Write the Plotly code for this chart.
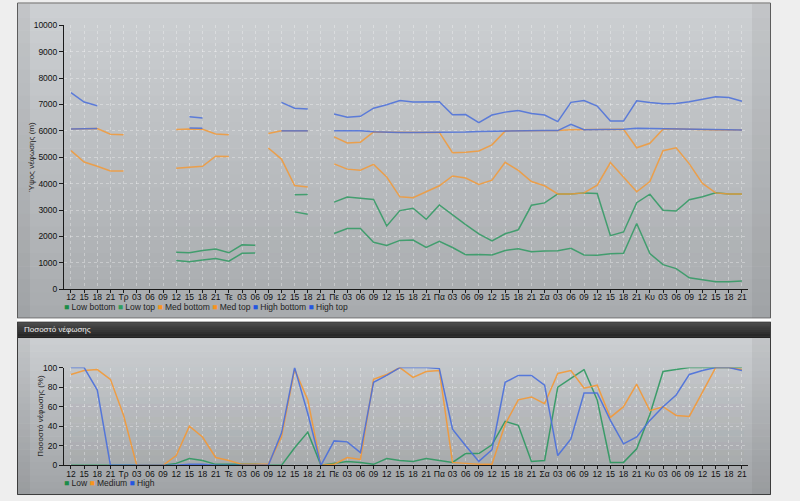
import plotly.graph_objects as go

W, H = 800, 501
N = None

tick_labels = ["12", "15", "18", "21",
               "Τρ", "03", "06", "09", "12", "15", "18", "21",
               "Τε", "03", "06", "09", "12", "15", "18", "21",
               "Πε", "03", "06", "09", "12", "15", "18", "21",
               "Πα", "03", "06", "09", "12", "15", "18", "21",
               "Σα", "03", "06", "09", "12", "15", "18", "21",
               "Κυ", "03", "06", "09", "12", "15", "18", "21"]

low_bottom = [N, N, N, N, N, N, N, N, 1090, 1040, 1110, 1160, 1060, 1360, 1370, N,
              N, 2930, 2840, N, 2110, 2300, 2300, 1780, 1660, 1850, 1860, 1580, 1810, 1580,
              1310, 1320, 1300, 1470, 1530, 1420, 1450, 1460, 1550, 1300, 1290, 1340, 1360,
              2490, 1350, 930, 780, 430, 360, 280, 280, 310]
low_top = [N, N, N, N, N, N, N, N, 1400, 1380, 1470, 1520, 1380, 1680, 1670, N,
           N, 3580, 3590, N, 3300, 3490, 3450, 3400, 2400, 2980, 3070, 2650, 3190, 2810,
           2450, 2100, 1830, 2100, 2250, 3180, 3270, 3610, 3610, 3650, 3630, 2030, 2170,
           3280, 3600, 2990, 2960, 3390, 3500, 3650, 3610, 3610]
med_bottom = [5250, 4820, 4660, 4480, 4480, N, N, N, 4580, 4620, 4660, 5040, 5030, N, N, 5350,
              4930, 3930, 3870, N, 4750, 4550, 4510, 4730, 4250, 3500, 3470, 3700, 3920, 4290,
              4210, 3970, 4130, 4810, 4500, 4080, 3920, 3610, 3610, 3650, 3940, 4800, 4260,
              3690, 4080, 5250, 5360, 4750, 4010, 3650, 3610, 3610]
med_top = [6070, 6070, 6090, 5870, 5850, N, N, N, 6050, 6070, 6060, 5880, 5850, N, N, 5900,
           6000, 6000, 6000, N, 5770, 5540, 5570, 5960, 5950, 5940, 5940, 5940, 5940, 5170,
           5190, 5240, 5470, 5990, 6000, 6000, 6010, 6010, 6040, 6040, 6040, 6040, 6060,
           5360, 5530, 6060, 6080, 6060, 6040, 6030, 6030, 6030]
high_bottom = [6070, 6070, 6090, N, N, N, N, N, N, 6110, 6100, N, N, N, N, N,
               6000, 6000, 6000, N, 6000, 6000, 6000, 5970, 5950, 5940, 5940, 5940, 5940, 5950,
               5960, 5980, 5990, 5990, 6000, 6000, 6010, 6010, 6250, 6040, 6040, 6040, 6060,
               6100, 6090, 6080, 6080, 6060, 6040, 6030, 6030, 6030]
high_top = [7450, 7090, 6950, N, N, N, N, N, N, 6535, 6485, N, N, N, N, N,
            7080, 6860, 6830, N, 6640, 6520, 6550, 6860, 6990, 7150, 7090, 7090, 7100, 6610,
            6620, 6310, 6600, 6710, 6770, 6660, 6600, 6350, 7080, 7150, 6940, 6370, 6370,
            7140, 7070, 7030, 7040, 7100, 7200, 7290, 7260, 7120]

cover_low = [0, 0, 0, 0, 0, 0, 0, 0, 2, 7, 5, 1, 1, 1, 1, 0, 0, 18, 34, 0, 2, 4, 3, 1, 7, 5,
             4, 7, 5, 3, 12, 12, 21, 45, 41, 4, 5, 80, 89, 98, 67, 3, 3, 17, 52, 96, 98, 100,
             100, 100, 100, 100]
cover_medium = [93, 97, 98, 88, 51, 0, 0, 0, 10, 40, 29, 8, 5, 1, 1, 1, 29, 98, 67, 0, 1, 8, 6,
                88, 93, 100, 90, 96, 97, 3, 2, 1, 1, 42, 67, 70, 63, 94, 97, 79, 82, 49, 60,
                83, 56, 60, 51, 50, 75, 100, 100, 98]
cover_high = [100, 100, 77, 0, 0, 0, 0, 0, 0, 1, 1, 0, 0, 0, 0, 0, 33, 100, 53, 0, 25, 24, 13,
              85, 92, 100, 100, 100, 99, 37, 20, 4, 16, 85, 92, 92, 82, 10, 27, 74, 74, 46,
              22, 29, 46, 60, 72, 93, 97, 100, 100, 97]

x = list(range(len(tick_labels)))

GREEN = "#2f9a62"
ORANGE = "#f39a38"
BLUE = "#4a6fdc"
FONT = "Liberation Sans, Arial, sans-serif"
FS = 8


def py(p):
    return 1 - p / H


def px(p):
    return p / W


fig = go.Figure()

top_series = [("Low bottom", low_bottom, GREEN), ("Low top", low_top, GREEN),
              ("Med bottom", med_bottom, ORANGE), ("Med top", med_top, ORANGE),
              ("High bottom", high_bottom, BLUE), ("High top", high_top, BLUE)]
for name, vals, col in top_series:
    fig.add_trace(go.Scatter(x=x, y=vals, name=name, mode="lines",
                             line=dict(color=col, width=1.5), opacity=0.85,
                             xaxis="x", yaxis="y", showlegend=False))

bottom_series = [("Low", cover_low, GREEN), ("Medium", cover_medium, ORANGE),
                 ("High", cover_high, BLUE)]
for name, vals, col in bottom_series:
    fig.add_trace(go.Scatter(x=x, y=vals, name=name, mode="lines",
                             line=dict(color=col, width=1.5), opacity=0.9,
                             xaxis="x2", yaxis="y2", showlegend=False))

shapes = []


def gradient(x0, x1, y0, y1, c0, c1, steps=24):
    for k in range(steps):
        t = k / (steps - 1)
        c = tuple(int(round(c0[j] + (c1[j] - c0[j]) * t)) for j in range(3))
        a = y0 + (y1 - y0) * k / steps
        b = y0 + (y1 - y0) * (k + 1) / steps + 0.6
        shapes.append(dict(type="rect", xref="paper", yref="paper", layer="below",
                           x0=px(x0), x1=px(x1), y0=py(min(b, y1)), y1=py(a),
                           line=dict(width=0), fillcolor="rgb(%d,%d,%d)" % c))


# top panel
gradient(17, 771, -1, 320, (204, 207, 210), (168, 171, 174))
# header bar of bottom panel
gradient(17, 771, 323, 340, (78, 78, 78), (34, 34, 34), steps=8)
# bottom panel body
gradient(17, 771, 340, 500, (203, 206, 209), (160, 163, 166))
# side shading
for (a, b) in [(17, 30), (752, 771)]:
    shapes.append(dict(type="rect", xref="paper", yref="paper", layer="below",
                       x0=px(a), x1=px(b), y0=py(320), y1=py(-1),
                       line=dict(width=0), fillcolor="rgba(80,80,80,0.08)"))
    shapes.append(dict(type="rect", xref="paper", yref="paper", layer="below",
                       x0=px(a), x1=px(b), y0=py(500), y1=py(340),
                       line=dict(width=0), fillcolor="rgba(80,80,80,0.08)"))
# borders
shapes.append(dict(type="rect", xref="paper", yref="paper", layer="below",
                   x0=px(17.5), x1=px(770.5), y0=py(319.5), y1=py(-2),
                   line=dict(width=1, color="#5c5c5c"), fillcolor="rgba(0,0,0,0)"))
shapes.append(dict(type="rect", xref="paper", yref="paper", layer="below",
                   x0=px(17.5), x1=px(770.5), y0=py(499.5), y1=py(323.5),
                   line=dict(width=1, color="#3c3c3c"), fillcolor="rgba(0,0,0,0)"))
shapes.append(dict(type="rect", xref="paper", yref="paper", layer="below",
                   x0=px(17), x1=px(771), y0=py(323), y1=py(320),
                   line=dict(width=0), fillcolor="#ffffff"))


def legend_text(items):
    parts = []
    for name, col in items:
        parts.append("<span style='color:%s'>■</span> %s" % (col, name))
    return " ".join(parts)


annotations = [
    dict(text=legend_text([("Low bottom", "#1c8c48"), ("Low top", "#2e9e5e"),
                           ("Med bottom", "#f7941d"), ("Med top", "#f7941d"),
                           ("High bottom", "#2456e0"), ("High top", "#2456e0")]),
         xref="paper", yref="paper", x=px(62), y=py(308), xanchor="left", yanchor="middle",
         showarrow=False, font=dict(family=FONT, size=FS + 0.5, color="#222")),
    dict(text=legend_text([("Low", "#1c8c48"), ("Medium", "#f7941d"), ("High", "#2456e0")]),
         xref="paper", yref="paper", x=px(62), y=py(488), xanchor="left", yanchor="middle",
         showarrow=False, font=dict(family=FONT, size=FS + 0.5, color="#222")),
    dict(text="Ύψος νέφωσης (m)", textangle=-90, xref="paper", yref="paper",
         x=px(32), y=py(155), xanchor="center", yanchor="middle", showarrow=False,
         font=dict(family=FONT, size=FS, color="#222")),
    dict(text="Ποσοστό νέφωσης (%)", textangle=-90, xref="paper", yref="paper",
         x=px(41), y=py(419), xanchor="center", yanchor="middle", showarrow=False,
         font=dict(family=FONT, size=FS, color="#222")),
    dict(text="Ποσοστό νέφωσης", xref="paper", yref="paper",
         x=px(22), y=py(331.5), xanchor="left", yanchor="middle", showarrow=False,
         font=dict(family=FONT, size=FS, color="#f0f0f0")),
]

grid = "rgba(255,255,255,0.32)"
xcommon = dict(domain=[px(64), px(748)], range=[-0.53, 51.46], tickmode="array",
               tickvals=x, ticktext=tick_labels, tickangle=0, showgrid=True,
               gridcolor=grid, griddash="3px,3px", gridwidth=1, showline=True,
               linecolor="#1a1a1a", linewidth=1, ticks="outside", ticklen=3,
               ticklabelstandoff=-3,
               tickcolor="#1a1a1a", tickfont=dict(family=FONT, size=8.5, color="#111"),
               zeroline=False, fixedrange=True)
ycommon = dict(showgrid=True, gridcolor=grid, griddash="3px,3px", gridwidth=1,
               showline=True, linecolor="#1a1a1a", linewidth=1, ticks="outside",
               ticklen=4, tickcolor="#1a1a1a", tickformat="d",
               tickfont=dict(family=FONT, size=8.5, color="#111"), zeroline=False,
               fixedrange=True)

fig.update_layout(
    width=W, height=H, margin=dict(l=0, r=0, t=0, b=0),
    paper_bgcolor="#eeeeee", plot_bgcolor="rgba(255,255,255,0.10)",
    showlegend=False, shapes=shapes, annotations=annotations,
    xaxis=dict(anchor="y", **xcommon),
    yaxis=dict(anchor="x", domain=[py(290), py(20.7)], range=[0, 10000], dtick=1000,
               **ycommon),
    xaxis2=dict(anchor="y2", **xcommon),
    yaxis2=dict(anchor="x2", domain=[py(469.7), py(370)], range=[0, 100], dtick=20,
                **ycommon),
)

fig.write_html("out.html", config={"displayModeBar": False},
               post_script="document.body.style.margin='0';")
